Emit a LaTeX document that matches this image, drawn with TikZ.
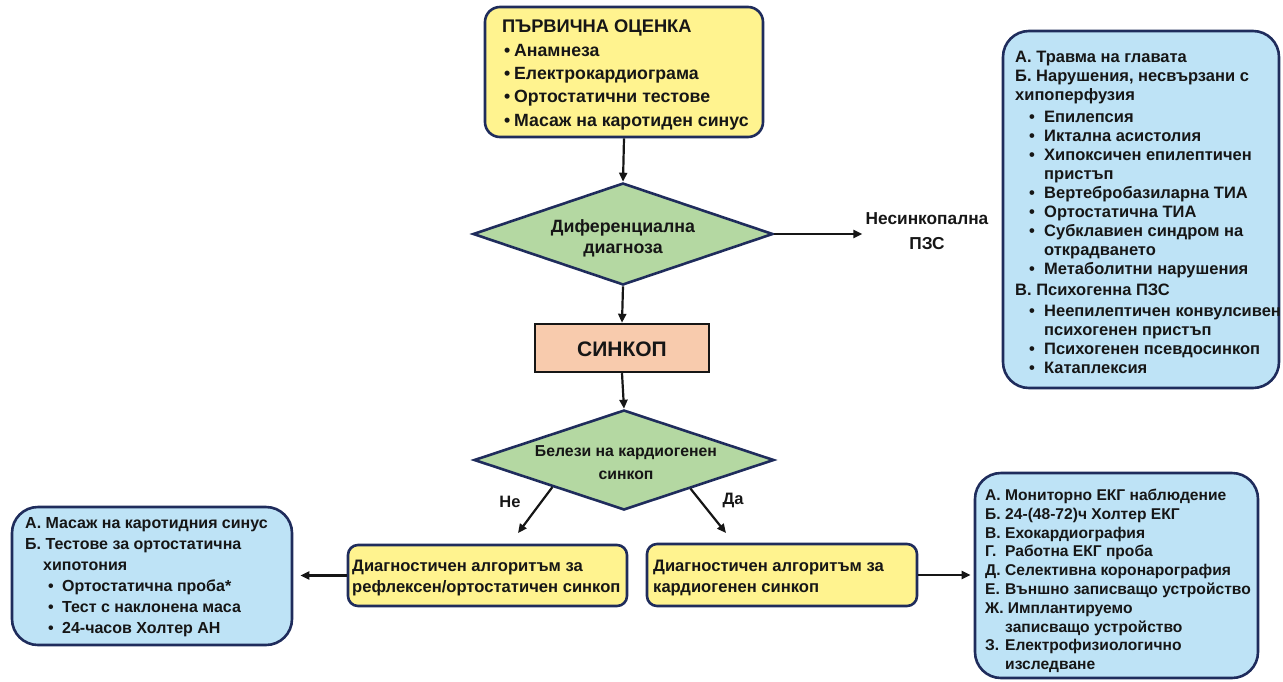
\documentclass[tikz,border=0pt]{standalone}
\usepackage{fontspec}
\setmainfont{Liberation Sans}
\usetikzlibrary{shapes.geometric,arrows.meta,calc}
\definecolor{yel}{HTML}{FFF38F}
\definecolor{grn}{HTML}{B4D8A2}
\definecolor{sal}{HTML}{F8CBAD}
\definecolor{blu}{HTML}{BEE3F6}
\definecolor{nav}{HTML}{1F2C5C}
\definecolor{ink}{HTML}{161616}
\newcommand\fs[2]{\fontsize{#1}{#2}\selectfont\bfseries}
\newcommand\myb{\hspace*{14pt}\makebox[15pt][l]{•}}
\newcommand\myc{\hspace*{29pt}}
\newcommand\lb{\hspace*{23pt}\makebox[14pt][l]{•}}
\newcommand\lt[1]{\makebox[20pt][l]{#1}}
\tikzset{
  ybox/.style={draw=nav, line width=2.6pt, fill=yel, rounded corners=12pt, inner sep=0pt},
  bbox/.style={draw=nav, line width=2.6pt, fill=blu, rounded corners=26pt, inner sep=0pt},
  sbox/.style={draw=ink, line width=2.4pt, fill=sal, inner sep=0pt},
  dia/.style={diamond, draw=nav, line width=2.6pt, fill=grn, inner sep=0pt},
  arr/.style={-{Triangle[length=9pt,width=8pt]}, line width=2.2pt, draw=ink},
  txt/.style={inner sep=0pt, align=left, anchor=north west, text=ink},
  ctxt/.style={inner sep=0pt, align=center, text=ink},
}
\begin{document}
\begin{tikzpicture}[x=1pt,y=-1pt]
\useasboundingbox (0,0) rectangle (1283,681);
% boxes
\node[ybox, minimum width=278pt, minimum height=130pt, rounded corners=15pt] (top) at (624,72) {};
\node[dia, minimum width=300pt, minimum height=102pt] (d1) at (623,234) {};
\node[sbox, minimum width=174pt, minimum height=48pt] (syn) at (622,348) {};
\node[dia, minimum width=300pt, minimum height=100pt] (d2) at (624,460) {};
\node[bbox, minimum width=276pt, minimum height=357pt] (rt) at (1141,209.5) {};
\node[ybox, minimum width=279pt, minimum height=61pt, rounded corners=10pt] (ly) at (487.5,575.5) {};
\node[ybox, minimum width=270pt, minimum height=62pt, rounded corners=10pt] (ry) at (782,575) {};
\node[bbox, minimum width=280pt, minimum height=138pt] (lb) at (152,576) {};
\node[bbox, minimum width=283pt, minimum height=205pt] (rb) at (1116.5,575.5) {};
% texts
\node[txt, font=\fs{17.7}{23.3}] (t0) at (502,20) {{\fontsize{18.3}{23.3}\selectfont ПЪРВИЧНА ОЦЕНКА}\\
\hspace*{2pt}\makebox[10pt][l]{•}Анамнеза\\
\hspace*{2pt}\makebox[10pt][l]{•}Електрокардиограма\\
\hspace*{2pt}\makebox[10pt][l]{•}Ортостатични тестове\\
\hspace*{2pt}\makebox[10pt][l]{•}Масаж на каротиден синус};
\node[ctxt, font=\fs{17.8}{21}] (d1t) at (623,238) {Диференциална\\диагноза};
\node[ctxt, font=\fs{17.3}{25}] (ns) at (927,231) {Несинкопална\\ПЗС};
\node[ctxt, font=\fs{21}{25}] (synt) at (622,349) {СИНКОП};
\node[ctxt, font=\fs{15.8}{23}] (d2t) at (626,463) {Белези на кардиогенен\\синкоп};
\node[ctxt, font=\fs{16.5}{20}] (ne) at (510,502) {Не};
\node[ctxt, font=\fs{16.5}{20}] (da) at (733,500) {Да};
\node[txt, font=\fs{16.5}{19}] (trt) at (1015,51) {А. Травма на главата\\
Б.\ Нарушения,\ несвързани\ с\\
хипоперфузия\\[3pt]
\myb Епилепсия\\
\myb Иктална асистолия\\
\myb Хипоксичен епилептичен\\
\myc пристъп\\
\myb Вертебробазиларна ТИА\\
\myb Ортостатична ТИА\\
\myb Субклавиен синдром на\\
\myc открадването\\
\myb Метаболитни нарушения\\[2pt]
В. Психогенна ПЗС\\[2pt]
\myb Неепилептичен конвулсивен\\
\myc психогенен пристъп\\
\myb Психогенен псевдосинкоп\\
\myb Катаплексия};
\node[txt, font=\fs{16.6}{21}] (lyt) at (352,559.5) {Диагностичен алгоритъм за\\рефлексен/ортостатичен синкоп};
\node[txt, font=\fs{16.6}{21}] (ryt) at (653,559.5) {Диагностичен алгоритъм за\\кардиогенен синкоп};
\node[txt, font=\fs{16}{21}] (lbt) at (25,517.5) {А. Масаж на каротидния синус\\
Б. Тестове за ортостатична\\
\hspace*{18pt}хипотония\\
\lb Ортостатична проба*\\
\lb Тест с наклонена маса\\
\lb 24-часов Холтер АН};
\node[txt, font=\fs{15.6}{18.8}] (rbt) at (985,488.8) {\lt{А.}Мониторно ЕКГ наблюдение\\
\lt{Б.}24-(48-72)ч Холтер ЕКГ\\
\lt{В.}Ехокардиография\\
\lt{Г.}Работна ЕКГ проба\\
\lt{Д.}Селективна коронарография\\
\lt{Е.}Външно записващо устройство\\
Ж. Имплантируемо\\
\hspace*{20pt}записващо устройство\\
\lt{З.}Електрофизиологично\\
\hspace*{20pt}изследване};
% connectors
\coordinate (neEnd) at (518,533);
\coordinate (daEnd) at (726,533);
\draw[arr] (top.south) -- (d1.north);
\draw[arr, shorten >=3pt] (d1.east) -- (d1.east -| ns.west);
\draw[arr] (d1.south) -- (syn.north);
\draw[arr] (syn.south) -- (d2.north);
\draw[arr] ($(d2.west)!0.527!(d2.south)$) -- (neEnd);
\draw[arr] ($(d2.south)!0.44!(d2.east)$) -- (daEnd);
\draw[arr, shorten >=7pt] (ly.west) -- (ly.west -| lb.east);
\draw[arr, shorten >=3pt] (ry.east) -- (ry.east -| rb.west);
\end{tikzpicture}
\end{document}
